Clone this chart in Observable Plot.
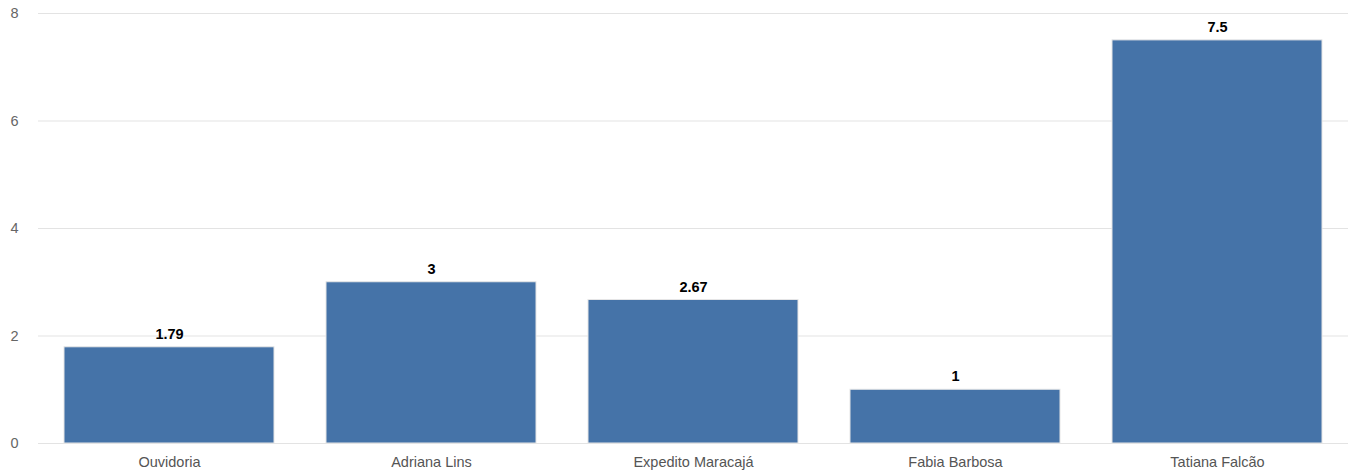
<!DOCTYPE html>
<html>
<head>
<meta charset="utf-8">
<script src="https://cdn.jsdelivr.net/npm/d3@7"></script>
<script src="https://cdn.jsdelivr.net/npm/@observablehq/plot@0.6"></script>
<style>
  html, body { margin: 0; padding: 0; background: #fff; }
  #chart svg { display: block; }
</style>
</head>
<body>
<div id="chart"></div>
<script>
const categories = ["Ouvidoria", "Adriana Lins", "Expedito Maracajá", "Fabia Barbosa", "Tatiana Falcão"];
const values = [1.79, 3, 2.67, 1, 7.5];
const labels = ["1.79", "3", "2.67", "1", "7.5"];
const yTicks = [0, 2, 4, 6, 8];

const data = categories.map((c, i) => ({ name: c, value: values[i], label: labels[i] }));

const chart = Plot.plot({
  width: 1354,
  height: 472,
  marginLeft: 38,
  marginRight: 6,
  marginTop: 13,
  marginBottom: 29,
  style: { fontFamily: "'Liberation Sans', Arial, sans-serif", fontSize: "14.5px", background: "#fff" },
  x: { domain: categories, paddingInner: 0.2, paddingOuter: 0.1, label: null },
  y: { domain: [0, 8], label: null },
  marks: [
    Plot.gridY(yTicks, { stroke: "#e3e3e3", strokeOpacity: 1, strokeWidth: 1 }),
    Plot.axisY(yTicks, { tickSize: 0, tickPadding: 20, tickFormat: d3.format("d"), fill: "#666", fontSize: 14.5, label: null }),
    Plot.axisX({ tickSize: 0, tickPadding: 13, fill: "#555", fontSize: 14.5, label: null }),
    Plot.barY(data, { x: "name", y: "value", fill: "#4573a8", stroke: "#e6e6e6", strokeWidth: 1 }),
    Plot.text(data, { x: "name", y: "value", text: "label", dy: -13, fill: "#000", fontWeight: "bold", fontSize: 14.5 })
  ]
});
document.getElementById("chart").appendChild(chart);
</script>
</body>
</html>
